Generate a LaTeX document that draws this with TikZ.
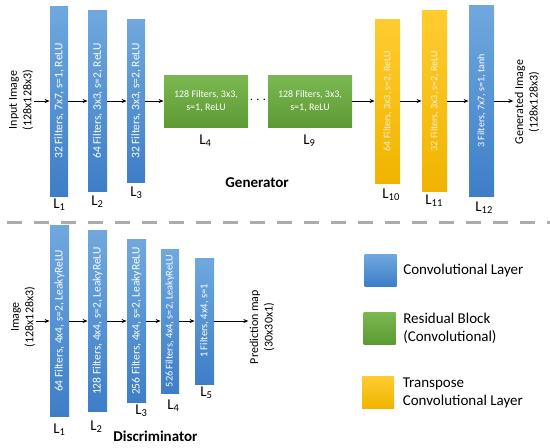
\documentclass[tikz,border=0pt]{standalone}
\usepackage{fontspec}
\setmainfont{Carlito}
\usetikzlibrary{arrows.meta, positioning}

\definecolor{convtop}{RGB}{112,168,222}
\definecolor{convbot}{RGB}{62,126,200}
\definecolor{restop}{RGB}{124,184,82}
\definecolor{resbot}{RGB}{92,154,52}
\definecolor{trtop}{RGB}{255,204,48}
\definecolor{trbot}{RGB}{240,180,0}
\definecolor{sepgray}{RGB}{172,172,172}

\tikzset{
  conv/.style = {top color=convtop, bottom color=convbot, text=white, inner sep=0pt, minimum width=19pt, font=\fontsize{11.5}{12}\selectfont},
  res/.style = {top color=restop, bottom color=resbot, text=white, inner sep=0pt, minimum width=84pt, minimum height=52pt, align=center, font=\fontsize{10}{12.5}\selectfont},
  trans/.style = {top color=trtop, bottom color=trbot, text=white!75!trtop, inner sep=0pt, minimum width=25pt, font=\fontsize{10}{12}\selectfont},
  lay/.style = {anchor=base west, inner sep=0pt, font=\fontsize{15}{18}\selectfont},
  io/.style = {rotate=90, align=center, inner sep=1pt, font=\fontsize{12}{14.5}\selectfont},
  key/.style = {minimum size=32pt, inner sep=0pt},
  keytext/.style = {align=left, inner sep=0pt, font=\fontsize{15}{18}\selectfont}
}

\begin{document}
\begin{tikzpicture}[x=1pt, y=-1pt, >={Stealth[length=5pt, width=4pt]}, line width=0.8pt]
\useasboundingbox (0,0) rectangle (550,448);

\node[conv, minimum width=18pt, minimum height=190pt] (g1) at (59,101) {\rotatebox{90}{32 Filters, 7x7, s=1, ReLU}};
\node[conv, minimum height=181pt] (g2) at (97.5,101) {\rotatebox{90}{64 Filters, 3x3, s=2, ReLU}};
\node[conv, minimum width=18pt, minimum height=163pt] (g3) at (136,101) {\rotatebox{90}{32 Filters, 3x3, s=2, ReLU}};
\node[res] (g4) at (206,101) {128 Filters, 3x3,\\s=1, ReLU};
\node[font=\fontsize{14}{14}\selectfont] (dots) at (258,100) {$\cdots$};
\node[res] (g9) at (310,101) {128 Filters, 3x3,\\s=1, ReLU};
\node[trans, minimum height=164pt] (g10) at (387.5,101) {\rotatebox{90}{64 Filters, 3x3, s=2, ReLU}};
\node[trans, minimum height=181pt] (g11) at (434.5,101) {\rotatebox{90}{32 Filters, 3x3, s=2, ReLU}};
\node[conv, minimum width=25pt, minimum height=191pt, font=\fontsize{10}{12}\selectfont] (g12) at (481.5,101) {\rotatebox{90}{3 Filters, 7x7, s=1, tanh}};
\node[io] (inp) at (21,100) {Input Image\\(128x128x3)};
\node[io] (gen) at (527,102) {Generated Image\\(128x128x3)};

\node[lay] at (53,208) {L\textsubscript{1}};
\node[lay] at (91,205) {L\textsubscript{2}};
\node[lay] at (130,196) {L\textsubscript{3}};
\node[lay] at (199,144) {L\textsubscript{4}};
\node[lay] at (303,144) {L\textsubscript{9}};
\node[lay] at (382,198) {L\textsubscript{10}};
\node[lay] at (425,204) {L\textsubscript{11}};
\node[lay] at (475,211) {L\textsubscript{12}};
\node[lay, font=\fontsize{15}{18}\selectfont\bfseries] (gname) at (225,187) {Generator};

\draw [->] (inp.south |- g1) -- (g1);
\draw [->] (g1) -- (g2);
\draw [->] (g2) -- (g3);
\draw [->] (g3) -- (g4);
\draw [->] (g9) -- (g10);
\draw [->] (g10) -- (g11);
\draw [->] (g11) -- (g12);
\draw [->] (g12) -- (g12 -| gen.north);

\draw [sepgray, line width=3pt, dash pattern=on 15pt off 12pt] (7,222) -- (550,222);

\node[conv, minimum height=191pt] (d1) at (59.5,321) {\rotatebox{90}{64 Filters, 4x4, s=2, LeakyReLU}};
\node[conv, minimum height=181pt] (d2) at (97.5,321) {\rotatebox{90}{128 Filters, 4x4, s=2, LeakyReLU}};
\node[conv, minimum height=163pt] (d3) at (136.5,321) {\rotatebox{90}{256 Filters, 4x4, s=2, LeakyReLU}};
\node[conv, minimum width=18pt, minimum height=144pt, font=\fontsize{10.3}{12}\selectfont] (d4) at (170,321) {\rotatebox{90}{526 Filters, 4x4, s=2, LeakyReLU}};
\node[conv, minimum height=126pt, font=\fontsize{10.5}{12}\selectfont] (d5) at (204.5,321) {\rotatebox{90}{1 Filters, 4x4, s=1}};
\node[io] (img) at (23,317) {Image\\(128x128x3)};
\node[io] (pred) at (262,327) {Prediction map\\(30x30x1)};

\node[lay] at (53,433) {L\textsubscript{1}};
\node[lay] at (90,430) {L\textsubscript{2}};
\node[lay] at (135,414) {L\textsubscript{3}};
\node[lay] at (167,409) {L\textsubscript{4}};
\node[lay] at (200,396) {L\textsubscript{5}};
\node[lay, font=\fontsize{15}{18}\selectfont\bfseries] (dname) at (113,441) {Discriminator};

\draw [->] (img.south |- d1) -- (d1);
\draw [->] (d1) -- (d2);
\draw [->] (d2) -- (d3);
\draw [->] (d3) -- (d4);
\draw [->] (d4) -- (d5);
\draw [->] (d5) -- (d5 -| pred.north);

\node[key, top color=convtop, bottom color=convbot] (kconv) at (380.5,270) {};
\node[key, top color=restop, bottom color=resbot] (kres) at (379.5,328) {};
\node[key, top color=trtop, bottom color=trbot] (ktrans) at (378,392.5) {};
\node[keytext, right=6pt of kconv] {Convolutional Layer};
\node[keytext, right=7pt of kres] {Residual Block\\(Convolutional)};
\node[keytext, right=8pt of ktrans] {Transpose\\Convolutional Layer};
\end{tikzpicture}
\end{document}
